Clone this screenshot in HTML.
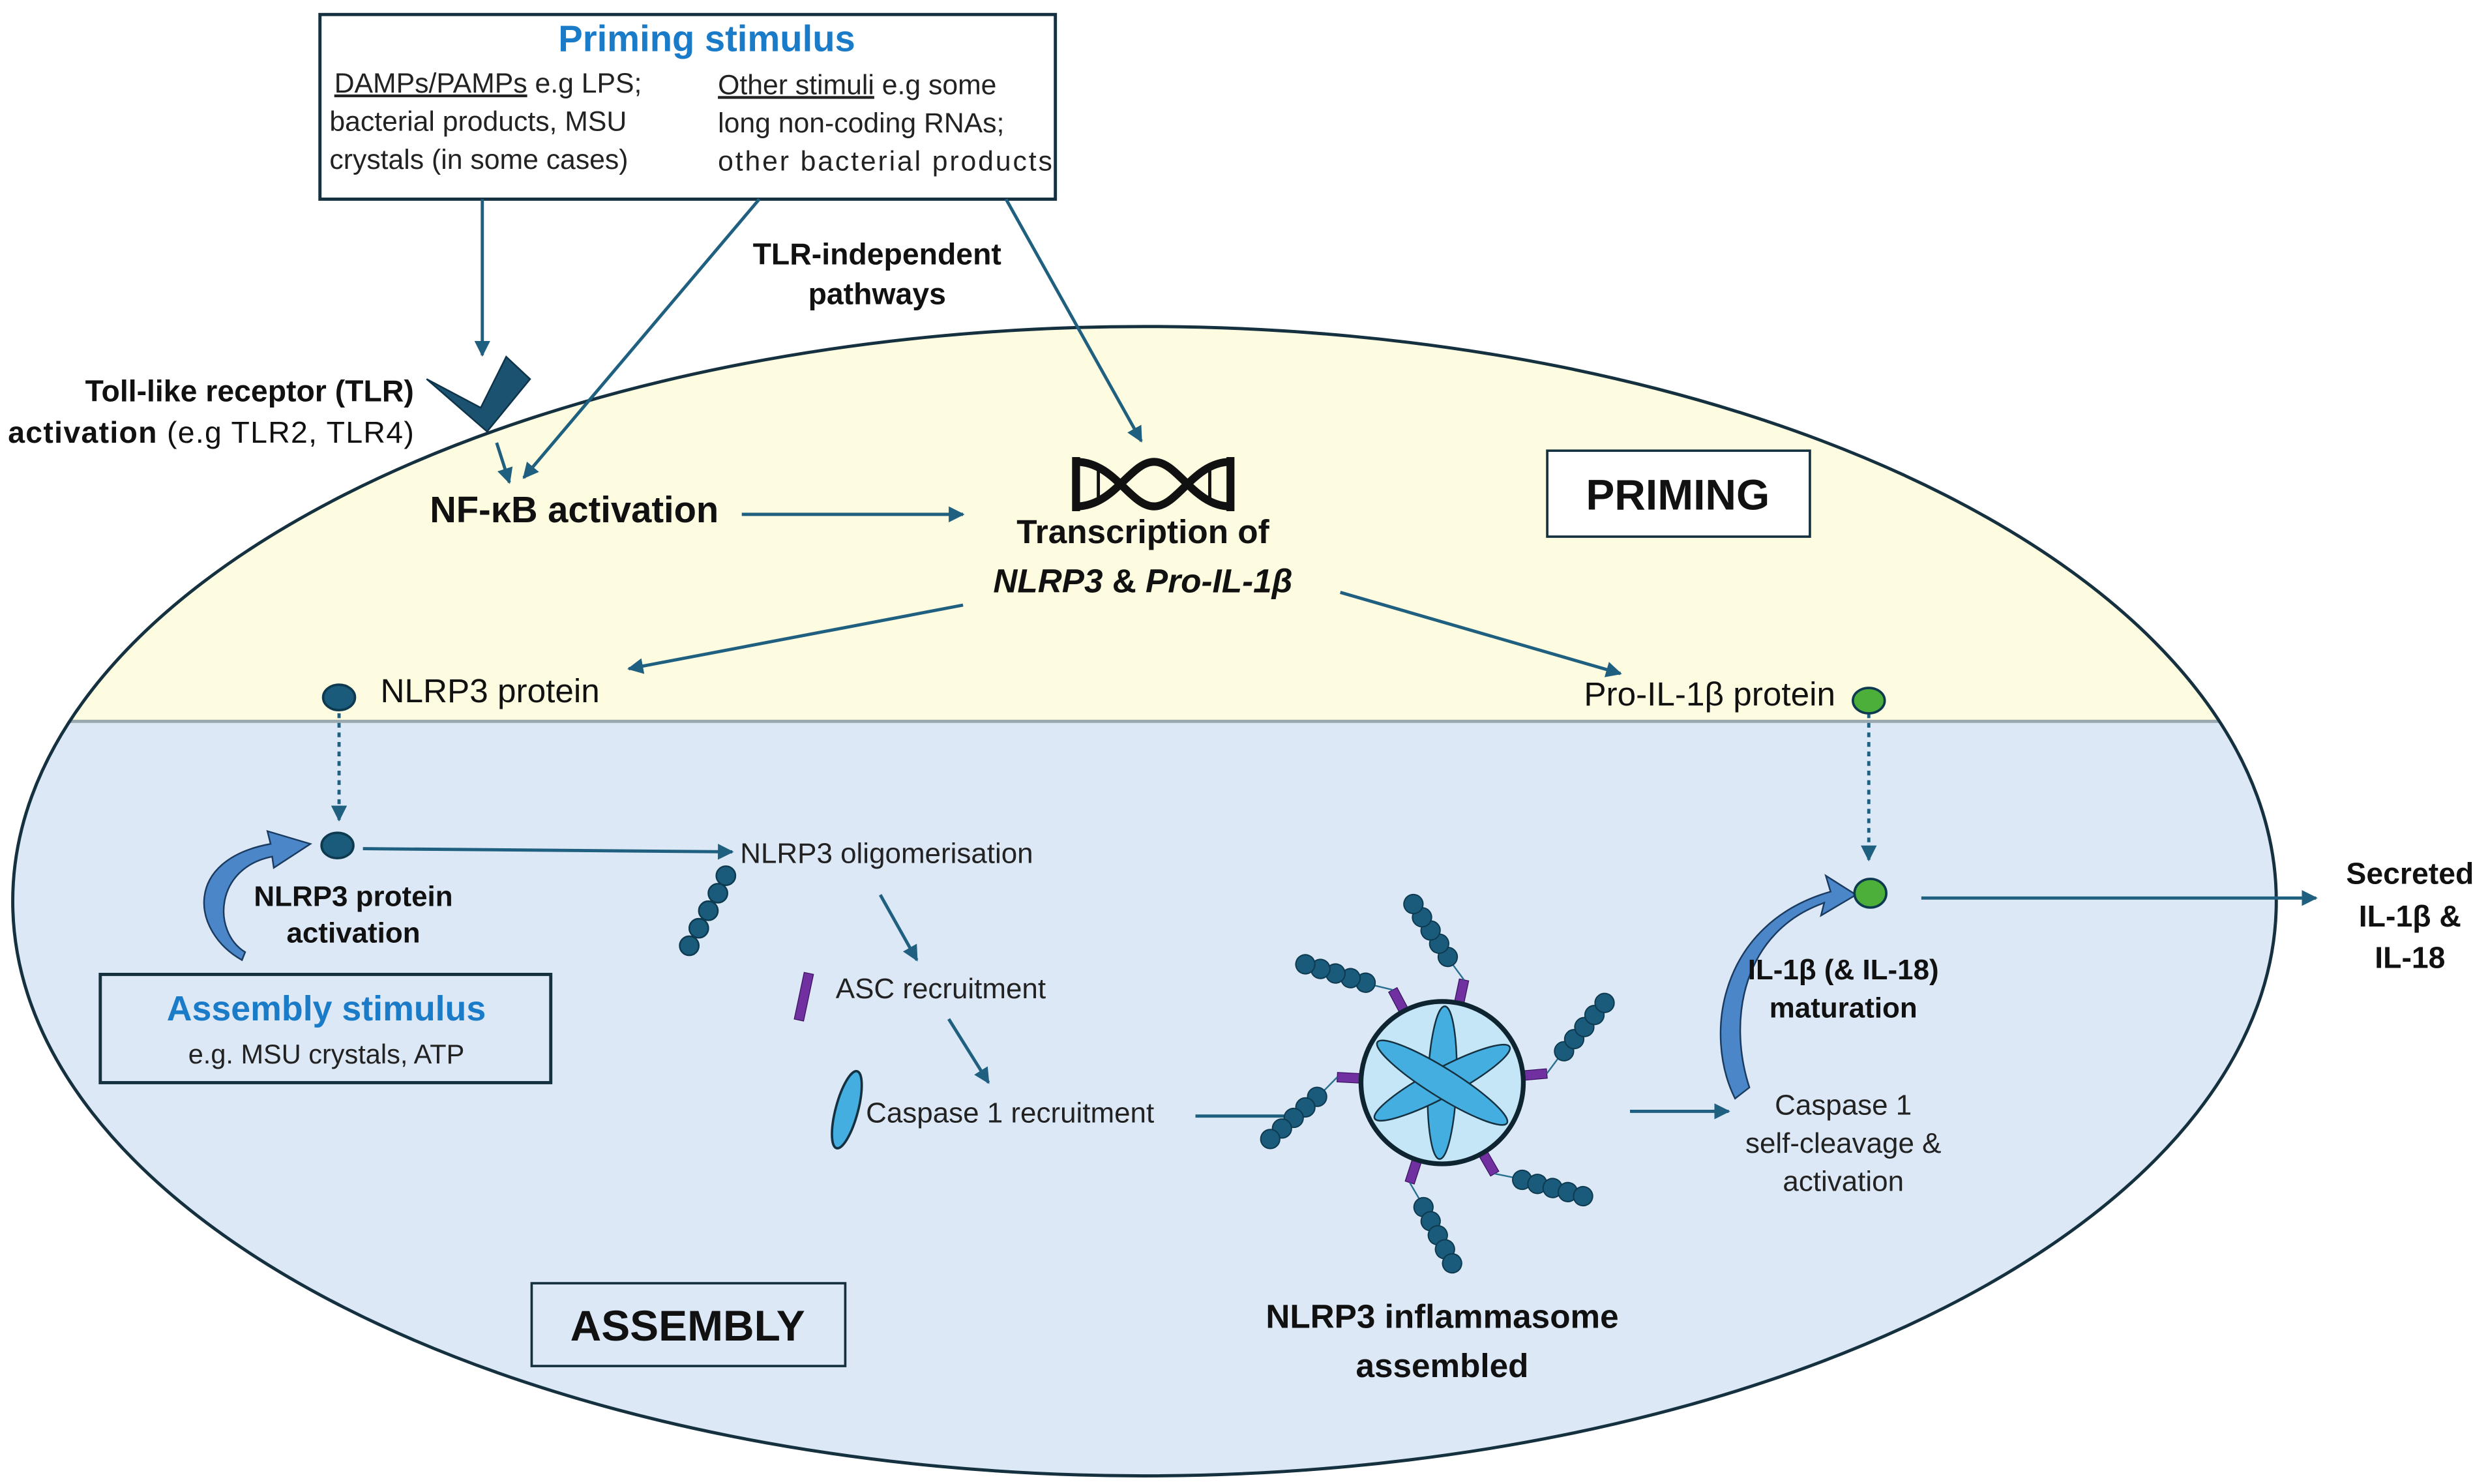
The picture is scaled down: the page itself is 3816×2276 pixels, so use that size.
<!DOCTYPE html>
<html><head><meta charset="utf-8"><style>
html,body{margin:0;padding:0;background:#fff}
svg{display:block}
text{font-family:"Liberation Sans",sans-serif}
</style></head><body>
<svg width="3816" height="2276" viewBox="0 0 1563 932" xmlns="http://www.w3.org/2000/svg">
<defs>
<marker id="a" viewBox="0 0 10 10" refX="9" refY="5" markerWidth="5" markerHeight="5" orient="auto"><path d="M0,0L10,5L0,10z" fill="#1f5f7f"/></marker>
<clipPath id="cl"><ellipse cx="719" cy="566" rx="711" ry="361"/></clipPath>
<g id="arm">
<rect x="50" y="-3" width="16" height="6" fill="#7030a0" stroke="#3a1060" stroke-width="0.5"/>
<line x1="66" y1="0" x2="74" y2="-9" stroke="#2a7090" stroke-width="1"/>
<g fill="#1a5a7a" stroke="#0e3a50" stroke-width="0.8">
<circle cx="78" cy="-13" r="6"/><circle cx="85" cy="-20" r="6"/><circle cx="92" cy="-27" r="6"/><circle cx="99" cy="-34" r="6"/><circle cx="106" cy="-41" r="6"/>
</g></g>
</defs>
<rect width="1563" height="932" fill="#fff"/>
<g clip-path="url(#cl)">
<rect x="0" y="0" width="1563" height="453" fill="#fdfbe0"/>
<rect x="0" y="453" width="1563" height="480" fill="#dce8f5"/>
</g>
<line x1="44" y1="453" x2="1394" y2="453" stroke="#9aa8b0" stroke-width="2"/>
<ellipse cx="719" cy="566" rx="711" ry="361" fill="none" stroke="#15303f" stroke-width="2"/>

<rect x="201" y="9" width="462" height="116" fill="#fff" stroke="#15303f" stroke-width="2"/>
<text x="444" y="32" text-anchor="middle" font-size="23" font-weight="bold" fill="#1a7bc8">Priming stimulus</text>
<g font-size="17.5" fill="#222">
<text x="210" y="58"><tspan text-decoration="underline">DAMPs/PAMPs</tspan> e.g LPS;</text>
<text x="207" y="82">bacterial products, MSU</text>
<text x="207" y="106">crystals (in some cases)</text>
<text x="451" y="59"><tspan text-decoration="underline">Other stimuli</tspan> e.g  some</text>
<text x="451" y="83">long non-coding RNAs;</text>
<text x="451" y="107" textLength="210">other bacterial products</text>
</g>

<g stroke="#1f5f7f" stroke-width="2" fill="none" marker-end="url(#a)">
<line x1="303" y1="125" x2="303" y2="223"/>
<line x1="477" y1="125" x2="329" y2="300"/>
<line x1="632" y1="125" x2="717" y2="277"/>
<line x1="312" y1="278" x2="320" y2="303"/>
<line x1="466" y1="323" x2="605" y2="323"/>
<line x1="605" y1="380" x2="395" y2="420"/>
<line x1="842" y1="372" x2="1018" y2="423"/>
<line x1="228" y1="533" x2="460" y2="535"/>
<line x1="553" y1="562" x2="576" y2="603"/>
<line x1="596" y1="640" x2="621" y2="680"/>
<line x1="751" y1="701" x2="820" y2="701"/>
<line x1="1024" y1="698" x2="1086" y2="698"/>
<line x1="1207" y1="564" x2="1455" y2="564"/>
</g>
<g stroke="#1f5f7f" stroke-width="2" fill="none" stroke-dasharray="3,3" marker-end="url(#a)">
<line x1="213" y1="448" x2="213" y2="515"/>
<line x1="1174" y1="448" x2="1174" y2="540"/>
</g>

<text x="551" y="166" text-anchor="middle" font-size="19" font-weight="bold" fill="#111">TLR-independent</text>
<text x="551" y="191" text-anchor="middle" font-size="19" font-weight="bold" fill="#111">pathways</text>

<polygon points="268,238 302,256 318,224 333,238 306,271" fill="#1a5270" stroke="#0e3348" stroke-width="1"/>
<text x="260" y="252" text-anchor="end" font-size="19" font-weight="bold" fill="#111">Toll-like receptor (TLR)</text>
<text x="260" y="278" text-anchor="end" font-size="19" fill="#111" textLength="255"><tspan font-weight="bold">activation</tspan> (e.g TLR2, TLR4)</text>

<text x="270" y="328" font-size="23" font-weight="bold" fill="#111">NF-κB activation</text>

<g stroke="#111" stroke-width="5" fill="none">
<path d="M676,290 C700,290 710,318 725,318 C740,318 750,290 773,290"/>
<path d="M676,318 C700,318 710,290 725,290 C740,290 750,318 773,318"/>
<line x1="676" y1="287" x2="676" y2="321"/><line x1="773" y1="287" x2="773" y2="321"/>
</g>
<g stroke="#111" stroke-width="2"><line x1="690" y1="292" x2="690" y2="316"/><line x1="760" y1="292" x2="760" y2="316"/></g>
<text x="718" y="341" text-anchor="middle" font-size="21" font-weight="bold" fill="#111">Transcription of</text>
<text x="718" y="372" text-anchor="middle" font-size="21" font-weight="bold" fill="#111"><tspan font-style="italic">NLRP3</tspan> &amp; <tspan font-style="italic">Pro-IL-1β</tspan></text>

<rect x="972" y="283" width="165" height="54" fill="#fff" stroke="#15303f" stroke-width="1.5"/>
<text x="1054" y="320" text-anchor="middle" font-size="27" font-weight="bold" fill="#111">PRIMING</text>

<ellipse cx="213" cy="438" rx="10" ry="8" fill="#1a5a7a" stroke="#0e3a50" stroke-width="1.5"/>
<text x="239" y="441" font-size="21" fill="#111">NLRP3 protein</text>
<text x="1153" y="443" text-anchor="end" font-size="21" fill="#111">Pro-IL-1β protein</text>
<ellipse cx="1174" cy="440" rx="10" ry="8" fill="#4caf3a" stroke="#0e3a50" stroke-width="1.5"/>

<ellipse cx="212" cy="531" rx="10" ry="8" fill="#1a5a7a" stroke="#0e3a50" stroke-width="1.5"/>
<path d="M152,603 C120,585 115,540 170,530 L168,522 L195,530 L172,545 L171,538 C135,545 133,585 154,598 Z" fill="#4a86c8" stroke="#1a3a60" stroke-width="1"/>
<text x="222" y="569" text-anchor="middle" font-size="18" font-weight="bold" fill="#111">NLRP3 protein</text>
<text x="222" y="592" text-anchor="middle" font-size="18" font-weight="bold" fill="#111">activation</text>

<rect x="63" y="612" width="283" height="68" fill="#dce8f5" stroke="#15303f" stroke-width="2"/>
<text x="205" y="641" text-anchor="middle" font-size="22" font-weight="bold" fill="#1a7bc8">Assembly stimulus</text>
<text x="205" y="668" text-anchor="middle" font-size="17" fill="#222">e.g. MSU crystals, ATP</text>

<g fill="#1a5a7a" stroke="#0e3a50" stroke-width="1">
<circle cx="456" cy="550" r="6"/><circle cx="451" cy="561" r="6"/><circle cx="445" cy="572" r="6"/><circle cx="439" cy="583" r="6"/><circle cx="433" cy="594" r="6"/>
</g>
<text x="465" y="542" font-size="18" fill="#222">NLRP3 oligomerisation</text>
<rect x="502" y="611" width="6" height="30" fill="#7030a0" stroke="#3a1060" stroke-width="0.5" transform="rotate(12 505 626)"/>
<text x="525" y="627" font-size="18" fill="#222">ASC recruitment</text>
<ellipse cx="532" cy="697" rx="7" ry="25" fill="#45aee0" stroke="#15303f" stroke-width="1.5" transform="rotate(15 532 697)"/>
<text x="544" y="705" font-size="18" fill="#222">Caspase 1 recruitment</text>

<g transform="translate(906,680)">
<use href="#arm" transform="rotate(-118)"/>
<use href="#arm" transform="rotate(-78)"/>
<use href="#arm" transform="rotate(-5)"/>
<use href="#arm" transform="rotate(60)"/>
<use href="#arm" transform="rotate(108)"/>
<use href="#arm" transform="rotate(183)"/>
<circle r="51" fill="#c5e6f6" stroke="#0e2430" stroke-width="3"/>
<g fill="#45aee0" stroke="#15303f" stroke-width="1">
<ellipse cx="0" cy="0" rx="9" ry="48" transform="rotate(2)"/>
<ellipse cx="0" cy="0" rx="9" ry="48" transform="rotate(62)"/>
<ellipse cx="0" cy="0" rx="9" ry="48" transform="rotate(122)"/>
</g>
</g>
<text x="906" y="834" text-anchor="middle" font-size="21" font-weight="bold" fill="#111">NLRP3 inflammasome</text>
<text x="906" y="865" text-anchor="middle" font-size="21" font-weight="bold" fill="#111">assembled</text>

<rect x="334" y="806" width="197" height="52" fill="#dce8f5" stroke="#15303f" stroke-width="1.5"/>
<text x="432" y="842" text-anchor="middle" font-size="27" font-weight="bold" fill="#111">ASSEMBLY</text>

<path d="M1090,690 C1070,650 1080,580 1150,560 L1147,550 L1166,562 L1144,575 L1146,567 C1095,585 1085,640 1099,683 Z" fill="#4a86c8" stroke="#1a3a60" stroke-width="1"/>
<ellipse cx="1175" cy="561" rx="10" ry="9" fill="#4caf3a" stroke="#0e3a50" stroke-width="1.5"/>
<text x="1158" y="615" text-anchor="middle" font-size="18" font-weight="bold" fill="#111">IL-1β (&amp; IL-18)</text>
<text x="1158" y="639" text-anchor="middle" font-size="18" font-weight="bold" fill="#111">maturation</text>
<text x="1158" y="700" text-anchor="middle" font-size="18" fill="#222">Caspase 1</text>
<text x="1158" y="724" text-anchor="middle" font-size="18" fill="#222">self-cleavage &amp;</text>
<text x="1158" y="748" text-anchor="middle" font-size="18" fill="#222">activation</text>

<text x="1514" y="555" text-anchor="middle" font-size="19" font-weight="bold" fill="#111">Secreted</text>
<text x="1514" y="582" text-anchor="middle" font-size="19" font-weight="bold" fill="#111">IL-1β &amp;</text>
<text x="1514" y="608" text-anchor="middle" font-size="19" font-weight="bold" fill="#111">IL-18</text>
</svg>
</body></html>
